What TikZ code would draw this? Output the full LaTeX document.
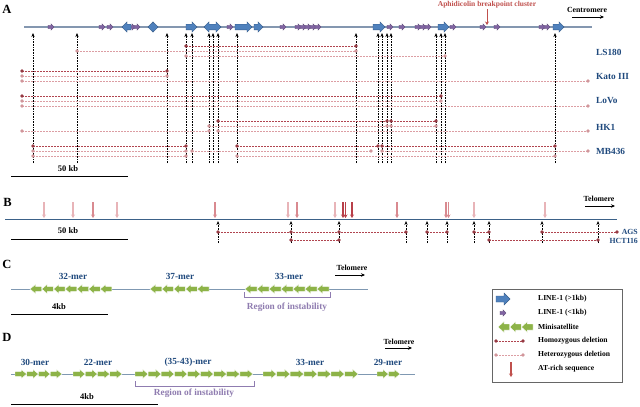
\documentclass[tikz,border=0pt]{standalone}
\usepackage{fontspec}
\setmainfont{Liberation Serif}
\usetikzlibrary{arrows.meta}
\definecolor{lineA}{HTML}{8497B0}
\definecolor{lineB}{HTML}{3B6188}
\definecolor{lineC}{HTML}{7F98B2}
\definecolor{blueF}{HTML}{4F81BD}
\definecolor{blueD}{HTML}{385D8A}
\definecolor{purF}{HTML}{8064A2}
\definecolor{purD}{HTML}{5C4776}
\definecolor{grnF}{HTML}{8DB348}
\definecolor{homC}{HTML}{B0444F}
\definecolor{hetC}{HTML}{DC9EA3}
\definecolor{labC}{HTML}{1F497D}
\definecolor{redC}{HTML}{C0504D}
\definecolor{atL}{HTML}{E8B4B8}
\definecolor{atM}{HTML}{D98A90}
\definecolor{atD}{HTML}{B8404A}
\definecolor{regC}{HTML}{8F7CB0}
\newcommand\ArwR[7]{\path[#1] ({#2},{#4-#5}) -- ({#3-#7},{#4-#5}) -- ({#3-#7},{#4-#6}) -- ({#3},{#4}) -- ({#3-#7},{#4+#6}) -- ({#3-#7},{#4+#5}) -- ({#2},{#4+#5}) -- cycle;}
\newcommand\ArwL[7]{\path[#1] ({#3},{#4-#5}) -- ({#2+#7},{#4-#5}) -- ({#2+#7},{#4-#6}) -- ({#2},{#4}) -- ({#2+#7},{#4+#6}) -- ({#2+#7},{#4+#5}) -- ({#3},{#4+#5}) -- cycle;}
\newcommand\ArwD[7]{\path[#1] ({#2},{#4}) -- ({#2+#7},{#4-#6}) -- ({#2+#7},{#4-#5}) -- ({#3-#7},{#4-#5}) -- ({#3-#7},{#4-#6}) -- ({#3},{#4}) -- ({#3-#7},{#4+#6}) -- ({#3-#7},{#4+#5}) -- ({#2+#7},{#4+#5}) -- ({#2+#7},{#4+#6}) -- cycle;}
\newcommand\BlR[2]{\ArwR{bluearr}{#1}{#2}{27}{2.8}{5.2}{5}}
\newcommand\BlL[2]{\ArwL{bluearr}{#1}{#2}{27}{2.8}{5.2}{5}}
\newcommand\BlD[2]{\ArwD{bluearr}{#1}{#2}{27}{2.8}{5.2}{5}}
\newcommand\Pu[1]{\ArwR{purparr}{#1-3}{#1+3}{27}{1.7}{3.2}{3}}
\newcommand\Del[4]{\draw[#1] ({#2},{#4}) -- ({#3},{#4}); \fill[#1dot] ({#2},{#4}) circle (1.8) ({#3},{#4}) circle (1.8);}
\newcommand\Dot[3]{\fill[#1dot] ({#2},{#3}) circle (1.8);}
\tikzset{
 bluearr/.style={fill=blueF, draw=blueD, line width=0.4pt},
 purparr/.style={fill=purF, draw=purD, line width=0.3pt},
 grnarr/.style={fill=grnF, draw=white, line width=0.4pt},
 hom/.style={draw=homC, dash pattern=on 2pt off 1pt, line width=0.8pt},
 het/.style={draw=hetC, dash pattern=on 2pt off 1pt, line width=0.8pt},
 homdot/.style={fill=homC!85!black},
 hetdot/.style={fill=hetC!95!black},
 vup/.style={dash pattern=on 0.8pt off 0.8pt, line width=0.65pt, black, -{Stealth[length=4pt,width=3.2pt]}},
 atarr/.style={line width=1.1pt, -{Stealth[length=3.5pt,width=4pt]}},
 lab/.style={text=labC, font=\bfseries\fontsize{9.3}{10}\selectfont, inner sep=0pt},
 labB/.style={text=labC, font=\bfseries\fontsize{7.8}{8}\selectfont, inner sep=0pt},
 mer/.style={text=labC, font=\bfseries\fontsize{9.3}{10}\selectfont, inner sep=0pt},
 small/.style={font=\bfseries\fontsize{8.5}{9}\selectfont, inner sep=0pt},
 tel/.style={font=\bfseries\fontsize{7.8}{8}\selectfont, inner sep=0pt},
 letter/.style={font=\bfseries\fontsize{12.5}{13}\selectfont, inner sep=0pt},
 leg/.style={font=\bfseries\fontsize{7.6}{8}\selectfont, inner sep=0pt, anchor=west},
 region/.style={text=regC, font=\bfseries\fontsize{9.3}{10}\selectfont, inner sep=0pt},
 bracket/.style={draw=regC, line width=0.7pt},
 dirarr/.style={line width=0.8pt, -{Stealth[length=4pt,width=3.5pt]}},
 scalebar/.style={line width=0.8pt, black}
}
\begin{document}
\begin{tikzpicture}[x=1pt,y=-1pt]
\useasboundingbox (0,0) rectangle (640,407);
\fill[white] (0,0) rectangle (640,407);
% ---------------- Panel A ----------------
\node[letter] (lA) at (7,9) {A};
\foreach \x in {33,77,167,186,192,209,213,218,237,356,378,382,387,391,436,441,445,555}
  {\draw[vup] (\x,163) -- (\x,33);}
\draw[lineA, line width=1.2pt] (24,27) -- (592,27);
\foreach \x in {51,102,110,132,137,230,283,298,303,308,313,318,390,402,418,423,428,453,483,497,542,547}
  {\Pu{\x}}
\BlL{122}{131}
\BlD{148}{158}
\BlR{186}{197}
\BlD{204}{221}
\BlR{235}{252}
\BlR{254}{263}
\BlR{373}{385}
\BlR{438}{449}
\BlR{553}{564}
\node[tel, text=redC, font=\bfseries\fontsize{7.5}{8}\selectfont] (aph) at (487,4.5) {Aphidicolin breakpoint cluster};
\coordinate (aphT) at (487,25);
\draw[atarr, redC, line width=1pt] (aph.south) ++(0,1) -- (aphT);
\node[tel] (cen) at (587,10) {Centromere};
\draw[dirarr] (572,17) -- (604,17);
% LS180
\Del{hom}{186}{356}{46}
\Del{het}{77}{356}{51}
\Del{het}{186}{445}{56}
% Kato III
\Del{hom}{22}{167}{71}
\Del{het}{22}{167}{76}
\Del{het}{22}{588}{81}
% LoVo
\Del{hom}{22}{441}{96}
\Del{het}{22}{441}{101}
\Del{het}{22}{588}{106}
% HK1
\Del{hom}{218}{387}{121}
\Del{hom}{391}{436}{121}
\Del{het}{209}{387}{126}
\Del{het}{391}{436}{126}
\Del{het}{22}{209}{131}
\Del{het}{218}{588}{131}
% MB436
\Del{hom}{33}{186}{146}
\Del{hom}{237}{378}{146}
\Del{hom}{382}{555}{146}
\Del{het}{33}{186}{151}
\Del{het}{192}{371}{151}
\Del{het}{382}{588}{151}
\Del{het}{33}{186}{156}
\Del{het}{237}{555}{156}
\node[lab, anchor=west] (ls) at (596,52) {LS180};
\node[lab, anchor=west] (ka) at (596,76) {Kato III};
\node[lab, anchor=west] (lo) at (596,101) {LoVo};
\node[lab, anchor=west] (hk) at (596,127) {HK1};
\node[lab, anchor=west] (mb) at (596,151) {MB436};
\node[small] (sA) at (68,169) {50 kb};
\draw[scalebar] (11,176) -- (128,176);
% ---------------- Panel B ----------------
\node[letter] (lB) at (7.5,202) {B};
\foreach \x/\c in {44/atL,73/atL,93/atM,117/atL,215/atM,288/atL,297/atM,335/atL,343/atD,345.5/atD,352/atD,397/atM,446/atM,448.5/atM,474/atL,545/atL}
  {\draw[atarr, \c] (\x,202) -- (\x,218);}
\foreach \x in {218,291,339,406,427,447,474,489,542,598}
  {\draw[vup] (\x,243) -- (\x,221);}
\draw[lineB, line width=1pt] (5,219) -- (617,219);
\Del{hom}{218}{406}{232}
\Dot{hom}{291}{232}
\Dot{hom}{339}{232}
\Del{hom}{427}{447}{232}
\Del{hom}{474}{489}{232}
\Del{hom}{542}{617}{232}
\Del{hom}{291}{339}{240}
\Del{hom}{489}{598}{240}
\node[labB, anchor=east] (ags) at (638,231.5) {AGS};
\node[labB, anchor=east] (hct) at (638,240.5) {HCT116};
\node[tel] (telB) at (599,199) {Telomere};
\draw[dirarr] (585,206) -- (615,206);
\node[small] (sB) at (68,231) {50 kb};
\draw[scalebar] (11,239) -- (128,239);
% ---------------- Panel C ----------------
\node[letter] (lC) at (7,264) {C};
\draw[lineC, line width=1pt] (11,289) -- (368,289);
\foreach \i in {0,...,6} {\ArwL{grnarr}{30+\i*11.7}{30+(\i+1)*11.7}{289}{2.6}{4.6}{5.5}}
\foreach \i in {0,...,4} {\ArwL{grnarr}{150+\i*11.8}{150+(\i+1)*11.8}{289}{2.6}{4.6}{5.5}}
\foreach \i in {0,...,6} {\ArwL{grnarr}{245+\i*12}{245+(\i+1)*12}{289}{2.6}{4.6}{5.5}}
\node[mer] (m32) at (73,276) {32-mer};
\node[mer] (m37) at (180,276) {37-mer};
\node[mer] (m33c) at (289,276) {33-mer};
\draw[bracket] (244,292) -- (244,297) -- (330,297) -- (330,292);
\node[region] (regC) at (287,307) {Region of instability};
\node[tel] (telC) at (352,268) {Telomere};
\draw[dirarr] (335,275) -- (365,275);
\node[small] (sC) at (59,307) {4kb};
\draw[scalebar] (11,314) -- (108,314);
% ---------------- Panel D ----------------
\node[letter] (lD) at (7,337) {D};
\draw[lineC, line width=1pt] (11,374) -- (415,374);
\foreach \i in {0,...,3} {\ArwR{grnarr}{15+\i*11.75}{15+(\i+1)*11.75}{374}{2.6}{4.6}{5.5}}
\foreach \i in {0,...,3} {\ArwR{grnarr}{73+\i*12.25}{73+(\i+1)*12.25}{374}{2.6}{4.6}{5.5}}
\foreach \i in {0,...,8} {\ArwR{grnarr}{135+\i*13.1}{135+(\i+1)*13.1}{374}{2.6}{4.6}{5.5}}
\foreach \i in {0,...,6} {\ArwR{grnarr}{263+\i*13.6}{263+(\i+1)*13.6}{374}{2.6}{4.6}{5.5}}
\foreach \i in {0,...,1} {\ArwR{grnarr}{377+\i*11.5}{377+(\i+1)*11.5}{374}{2.6}{4.6}{5.5}}
\node[mer] (m30) at (35,362) {30-mer};
\node[mer] (m22) at (98,362) {22-mer};
\node[mer] (m35) at (188,362) {(35-43)-mer};
\node[mer] (m33d) at (310,362) {33-mer};
\node[mer] (m29) at (388,362) {29-mer};
\draw[bracket] (135,381) -- (135,386) -- (254,386) -- (254,381);
\node[region] (regD) at (194,393) {Region of instability};
\node[tel] (telD) at (399,342) {Telomere};
\draw[dirarr] (385,348) -- (412,348);
\node[small] (sD) at (87,397) {4kb};
\draw[scalebar] (11,404) -- (158,404);
% ---------------- Legend ----------------
\draw[draw=black!60, line width=0.8pt, fill=white] (492,289) rectangle (622,382);
\ArwR{bluearr}{496}{510}{299}{3}{6}{6}
\ArwR{purparr}{500}{506}{313}{1.7}{3.2}{3}
\foreach \i in {0,...,2} {\ArwL{grnarr}{498+\i*11.7}{498+(\i+1)*11.7}{327}{3}{5.5}{6}}
\Del{hom}{496}{523}{341}
\Del{het}{496}{523}{355}
\draw[atarr, redC] (511,362) -- (511,377);
\node[leg] (g1) at (538,299) {LINE-1 (>1kb)};
\node[leg] (g2) at (538,313) {LINE-1 (<1kb)};
\node[leg] (g3) at (538,327) {Minisatellite};
\node[leg] (g4) at (538,341) {Homozygous deletion};
\node[leg] (g5) at (538,355) {Heterozygous deletion};
\node[leg] (g6) at (538,369) {AT-rich sequence};
\end{tikzpicture}
\end{document}
